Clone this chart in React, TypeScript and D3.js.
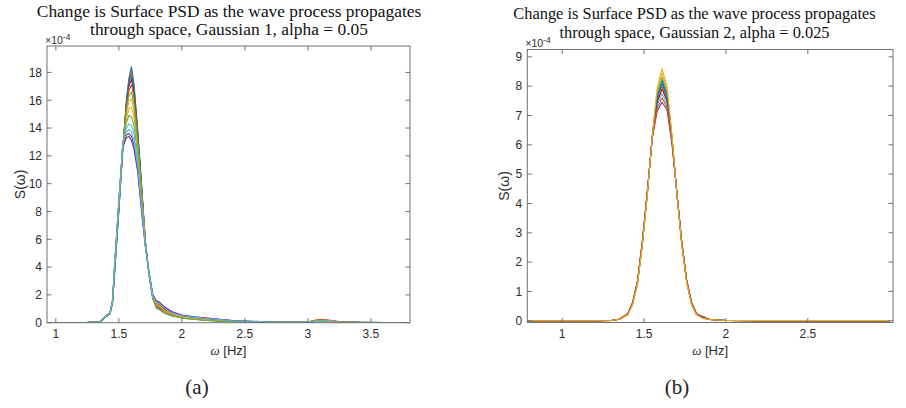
import React from "react";
import * as d3 from "d3";

// MATLAB default colour order
const COLORS = ["#0072BD", "#D95319", "#EDB120", "#7E2F8E", "#77AC30", "#4DBEEE", "#A2142F"];

// ---------- Panel (a): Gaussian 1, alpha = 0.05 ----------
const titleA = ["Change is Surface PSD as the wave process propagates", "through space, Gaussian 1, alpha = 0.05"];
const omegaA = [0.93, 1.2, 1.35, 1.4, 1.43, 1.45, 1.47, 1.5, 1.53, 1.56, 1.58, 1.6, 1.62, 1.65, 1.68, 1.71, 1.74, 1.77, 1.8, 1.82, 1.86, 1.92, 2.0, 2.1, 2.2, 2.4, 2.7, 3.0, 3.08, 3.15, 3.25, 3.4, 3.81];
const a1 = [0, 0, 0.05, 0.45, 0.65, 1.4, 4.0, 8.0, 12.2, 16.0, 17.6, 18.4, 17.2, 13.8, 10.0, 5.8, 3.4, 1.7, 1.3, 1.25, 0.9, 0.6, 0.4, 0.3, 0.2, 0.1, 0.05, 0.04, 0.12, 0.14, 0.06, 0.02, 0];
const a2 = [0, 0, 0.04, 0.48, 0.68, 1.5, 4.2, 8.2, 12.3, 15.9, 17.4, 18.1, 17.0, 13.7, 9.9, 5.9, 3.5, 1.8, 1.2, 1.1, 0.8, 0.55, 0.38, 0.28, 0.18, 0.09, 0.05, 0.05, 0.15, 0.16, 0.07, 0.02, 0];
const a3 = [0, 0, 0.05, 0.46, 0.66, 1.5, 4.3, 8.4, 12.6, 14.7, 15.4, 15.5, 14.8, 12.4, 9.1, 5.7, 3.5, 1.75, 1.15, 1.1, 0.8, 0.56, 0.38, 0.27, 0.18, 0.09, 0.05, 0.03, 0.11, 0.12, 0.04, 0.01, 0];
const a4 = [0, 0, 0.06, 0.52, 0.72, 1.65, 4.7, 8.8, 12.6, 13.3, 13.4, 13.1, 12.5, 10.8, 8.0, 5.5, 3.6, 2.0, 1.55, 1.5, 1.15, 0.8, 0.55, 0.42, 0.33, 0.16, 0.05, 0.04, 0.1, 0.1, 0.04, 0.02, 0];
const a5 = [0, 0, 0.06, 0.5, 0.7, 1.6, 4.5, 8.6, 12.7, 14.4, 14.9, 14.8, 14.2, 12.0, 8.9, 5.7, 3.6, 1.9, 1.4, 1.35, 1.0, 0.68, 0.45, 0.33, 0.22, 0.11, 0.05, 0.04, 0.14, 0.13, 0.05, 0.02, 0];
const a6 = [0, 0, 0.05, 0.45, 0.65, 1.5, 4.4, 8.5, 12.6, 14.0, 14.3, 14.2, 13.6, 11.6, 8.7, 5.6, 3.5, 1.8, 1.2, 1.15, 0.85, 0.58, 0.4, 0.28, 0.19, 0.09, 0.04, 0.03, 0.1, 0.11, 0.04, 0.01, 0];
const a7 = [0, 0, 0.05, 0.46, 0.66, 1.5, 4.3, 8.3, 12.4, 15.7, 17.0, 17.5, 16.5, 13.4, 9.7, 5.9, 3.5, 1.8, 1.35, 1.3, 0.95, 0.62, 0.42, 0.3, 0.2, 0.1, 0.05, 0.03, 0.1, 0.11, 0.05, 0.01, 0];
const a8 = [0, 0, 0.05, 0.44, 0.64, 1.45, 4.1, 8.1, 12.4, 15.8, 17.2, 17.8, 16.8, 13.6, 9.8, 5.8, 3.4, 1.7, 1.1, 1.0, 0.7, 0.5, 0.34, 0.25, 0.16, 0.08, 0.04, 0.06, 0.2, 0.18, 0.06, 0.02, 0];
const a9 = [0, 0, 0.06, 0.5, 0.7, 1.55, 4.4, 8.4, 12.5, 15.5, 16.7, 17.1, 16.2, 13.2, 9.6, 5.8, 3.5, 1.75, 1.2, 1.15, 0.85, 0.58, 0.4, 0.28, 0.19, 0.09, 0.05, 0.04, 0.22, 0.2, 0.08, 0.02, 0];
const a10 = [0, 0, 0.05, 0.47, 0.67, 1.5, 4.4, 8.5, 12.6, 15.0, 15.9, 16.1, 15.3, 12.7, 9.3, 5.8, 3.5, 1.8, 1.3, 1.25, 0.9, 0.62, 0.42, 0.3, 0.2, 0.1, 0.05, 0.04, 0.16, 0.15, 0.05, 0.02, 0];
const a11 = [0, 0, 0.05, 0.46, 0.66, 1.55, 4.5, 8.6, 12.6, 13.5, 13.6, 13.4, 12.8, 11.0, 8.2, 5.5, 3.6, 1.95, 1.5, 1.45, 1.1, 0.75, 0.52, 0.4, 0.32, 0.15, 0.05, 0.03, 0.08, 0.09, 0.03, 0.01, 0];
const a12 = [0, 0, 0.05, 0.45, 0.65, 1.45, 4.2, 8.3, 12.5, 15.3, 16.3, 16.6, 15.7, 12.9, 9.4, 5.7, 3.4, 1.7, 1.0, 0.95, 0.7, 0.5, 0.33, 0.24, 0.16, 0.08, 0.04, 0.03, 0.13, 0.14, 0.05, 0.02, 0];
const a13 = [0, 0, 0.06, 0.5, 0.7, 1.6, 4.6, 8.7, 12.7, 13.7, 13.9, 13.7, 13.1, 11.2, 8.4, 5.6, 3.6, 1.9, 1.45, 1.4, 1.05, 0.72, 0.5, 0.38, 0.3, 0.14, 0.05, 0.04, 0.1, 0.1, 0.04, 0.02, 0];
const seriesA = [a1, a2, a3, a4, a5, a6, a7, a8, a9, a10, a11, a12, a13];
const xTicksA = [1, 1.5, 2, 2.5, 3, 3.5];
const yTicksA = [0, 2, 4, 6, 8, 10, 12, 14, 16, 18];

// ---------- Panel (b): Gaussian 2, alpha = 0.025 ----------
const titleB = ["Change is Surface PSD as the wave process propagates", "through space, Gaussian 2, alpha = 0.025"];
const omegaB = [0.79, 1.2, 1.3, 1.35, 1.4, 1.43, 1.46, 1.49, 1.52, 1.55, 1.58, 1.61, 1.64, 1.67, 1.7, 1.73, 1.76, 1.79, 1.82, 1.86, 1.9, 2.0, 2.5, 3.0];
const b1 = [0, 0, 0.01, 0.05, 0.22, 0.58, 1.3, 2.66, 4.35, 6.28, 7.68, 8.2, 7.72, 6.25, 4.36, 2.64, 1.34, 0.58, 0.22, 0.14, 0.05, 0.01, 0, 0];
const b2 = [0, 0, 0.01, 0.05, 0.22, 0.59, 1.32, 2.68, 4.37, 6.26, 7.52, 8.0, 7.58, 6.2, 4.37, 2.66, 1.36, 0.6, 0.23, 0.1, 0.04, 0.01, 0, 0];
const b3 = [0, 0, 0.01, 0.05, 0.21, 0.56, 1.27, 2.62, 4.32, 6.3, 7.85, 8.45, 7.9, 6.3, 4.35, 2.62, 1.32, 0.56, 0.22, 0.12, 0.05, 0.01, 0, 0];
const b4 = [0, 0, 0.01, 0.06, 0.24, 0.62, 1.36, 2.74, 4.42, 6.22, 7.15, 7.45, 7.2, 6.05, 4.4, 2.7, 1.4, 0.63, 0.25, 0.1, 0.04, 0.01, 0, 0];
const b5 = [0, 0, 0.01, 0.05, 0.21, 0.57, 1.28, 2.64, 4.33, 6.28, 7.75, 8.3, 7.8, 6.28, 4.36, 2.63, 1.33, 0.57, 0.21, 0.1, 0.04, 0.01, 0, 0];
const b6 = [0, 0, 0.01, 0.05, 0.2, 0.55, 1.25, 2.6, 4.3, 6.3, 7.95, 8.6, 8.0, 6.35, 4.35, 2.6, 1.3, 0.55, 0.2, 0.08, 0.04, 0.01, 0.01, 0.01];
const b7 = [0, 0, 0.01, 0.06, 0.23, 0.6, 1.34, 2.71, 4.4, 6.24, 7.35, 7.75, 7.4, 6.15, 4.39, 2.68, 1.38, 0.62, 0.24, 0.11, 0.04, 0.01, 0, 0];
const b8 = [0, 0, 0.01, 0.05, 0.23, 0.6, 1.33, 2.7, 4.38, 6.25, 7.45, 7.9, 7.5, 6.18, 4.38, 2.67, 1.37, 0.61, 0.23, 0.12, 0.05, 0.01, 0, 0];
const b9 = [0, 0, 0.01, 0.05, 0.22, 0.59, 1.31, 2.67, 4.36, 6.27, 7.6, 8.1, 7.65, 6.22, 4.37, 2.65, 1.35, 0.59, 0.22, 0.09, 0.04, 0.01, 0, 0];
const b10 = [0, 0, 0.01, 0.06, 0.24, 0.61, 1.35, 2.72, 4.41, 6.23, 7.25, 7.6, 7.3, 6.1, 4.4, 2.69, 1.39, 0.62, 0.24, 0.1, 0.04, 0.01, 0, 0];
const seriesB = [b1, b2, b3, b4, b5, b7, b8, b9, b10, b6];
const xTicksB = [1, 1.5, 2, 2.5];
const yTicksB = [0, 1, 2, 3, 4, 5, 6, 7, 8, 9];

const captions = ["(a)", "(b)"];

type PanelProps = {
  left: number; right: number; top: number; bottom: number;
  xDomain: [number, number]; yDomain: [number, number];
  xTicks: number[]; yTicks: number[];
  omega: number[]; series: number[][];
  title: string[]; titleX: number; titleY: number[]; titleSize: number;
  expY: number; ylabelX: number;
  caption: string; captionX: number; id: string;
};

const AXIS = "#707070";
const LABEL = "#2b2b2b";
const SANS = "'Liberation Sans', Arial, Helvetica, sans-serif";
const SERIF = "'Liberation Serif', 'DejaVu Serif', serif";

function Panel(p: PanelProps) {
  const x = d3.scaleLinear().domain(p.xDomain).range([p.left, p.right]);
  const y = d3.scaleLinear().domain(p.yDomain).range([p.bottom, p.top]);
  const line = d3.line<number>().x((_, i) => x(p.omega[i])).y((v) => y(v));
  const tl = 4.5;
  const midX = (p.left + p.right) / 2;
  const midY = (p.top + p.bottom) / 2;
  return (
    <g>
      <defs>
        <clipPath id={"clip" + p.id}>
          <rect x={p.left} y={p.top} width={p.right - p.left} height={p.bottom - p.top} />
        </clipPath>
      </defs>
      <g clipPath={`url(#clip${p.id})`}>
        {p.series.map((s, i) => (
          <path key={i} d={line(s) || ""} fill="none" stroke={COLORS[i % COLORS.length]} strokeWidth={1.1} strokeLinejoin="round" />
        ))}
      </g>
      <rect x={p.left} y={p.top} width={p.right - p.left} height={p.bottom - p.top} fill="none" stroke={AXIS} strokeWidth={1} />
      {p.xTicks.map((t) => (
        <g key={"x" + t}>
          <line x1={x(t)} x2={x(t)} y1={p.bottom} y2={p.bottom - tl} stroke={AXIS} />
          <line x1={x(t)} x2={x(t)} y1={p.top} y2={p.top + tl} stroke={AXIS} />
          <text x={x(t)} y={p.bottom + 15.5} textAnchor="middle" fontFamily={SANS} fontSize={12} fill={LABEL}>{String(t)}</text>
        </g>
      ))}
      {p.yTicks.map((t) => (
        <g key={"y" + t}>
          <line x1={p.left} x2={p.left + tl} y1={y(t)} y2={y(t)} stroke={AXIS} />
          <line x1={p.right} x2={p.right - tl} y1={y(t)} y2={y(t)} stroke={AXIS} />
          <text x={p.left - 5} y={y(t) + 4.3} textAnchor="end" fontFamily={SANS} fontSize={12} fill={LABEL}>{String(t)}</text>
        </g>
      ))}
      <text x={p.left - 2} y={p.expY} fontFamily={SANS} fontSize={10.5} fill={LABEL}>
        ×10<tspan dy={-4} fontSize={8.5}>-4</tspan>
      </text>
      {p.title.map((t, i) => (
        <text key={i} x={p.titleX} y={p.titleY[i]} textAnchor="middle" fontFamily={SERIF} fontSize={p.titleSize} fill="#111">{t}</text>
      ))}
      <text transform={`translate(${p.ylabelX},${midY}) rotate(-90)`} textAnchor="middle" fontFamily={SANS} fontSize={14} fill={LABEL}>S(ω)</text>
      <text x={midX} y={p.bottom + 32} textAnchor="middle" fontFamily={SANS} fontSize={13} fill={LABEL}>
        <tspan fontFamily={SERIF} fontStyle="italic">ω</tspan> [Hz]
      </text>
      <text x={p.captionX} y={394} textAnchor="middle" fontFamily={SERIF} fontSize={21} fill="#222">{p.caption}</text>
    </g>
  );
}

export default function App() {
  return (
    <svg width={906} height={408} viewBox="0 0 906 408" style={{ position: "absolute", left: 0, top: 0, background: "#fff" }}>
      <rect width={906} height={408} fill="#fff" />
      <Panel
        id="a"
        left={47} right={410} top={46} bottom={322.7}
        xDomain={[0.93, 3.81]} yDomain={[0, 19.9]}
        xTicks={xTicksA} yTicks={yTicksA}
        omega={omegaA} series={seriesA}
        title={titleA} titleX={229} titleY={[16.5, 35]} titleSize={17.4}
        expY={44} ylabelX={25}
        caption={captions[0]} captionX={197}
      />
      <Panel
        id="b"
        left={527.3} right={893} top={49.5} bottom={322.5}
        xDomain={[0.787, 3.02]} yDomain={[-0.06, 9.25]}
        xTicks={xTicksB} yTicks={yTicksB}
        omega={omegaB} series={seriesB}
        title={titleB} titleX={694.5} titleY={[19, 37.5]} titleSize={16.4}
        expY={46.5} ylabelX={509}
        caption={captions[1]} captionX={677}
      />
    </svg>
  );
}
